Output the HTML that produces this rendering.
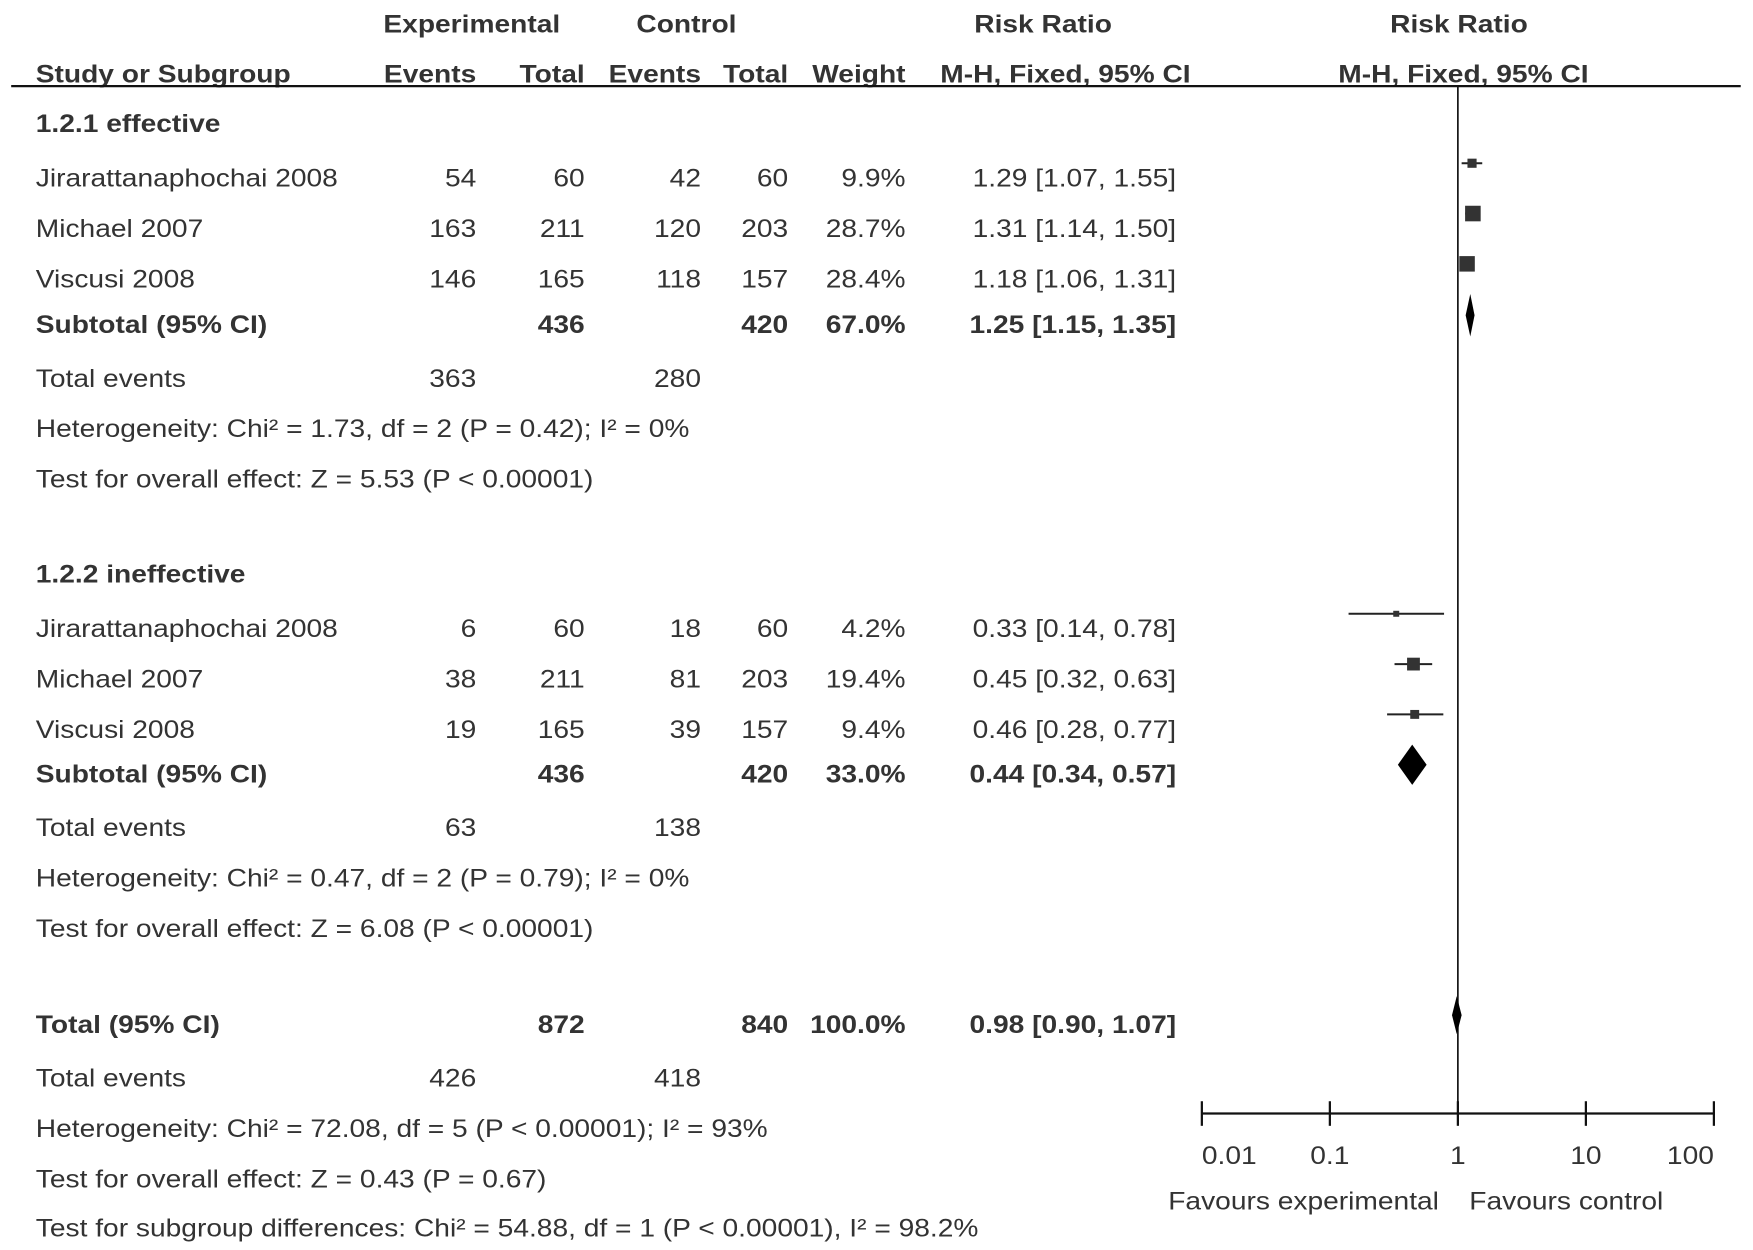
<!DOCTYPE html>
<html><head><meta charset="utf-8">
<style>
html,body{margin:0;padding:0;background:#fff;width:1753px;height:1250px;overflow:hidden}
#wrap{width:1568px;height:1118px;transform:scale(1.118);transform-origin:0 0}
svg text{font-family:"Liberation Sans",Arial,sans-serif;font-size:22.5px;fill:#333}
.b{font-weight:bold}
</style></head>
<body>
<div id="wrap">
<svg id="svg" width="1568" height="1118"></svg>
</div>
<script>
// ---- data ----
const studyNames = ["Jirarattanaphochai 2008","Michael 2007","Viscusi 2008","Jirarattanaphochai 2008","Michael 2007","Viscusi 2008"];
const expEvents = [54,163,146,6,38,19];
const expTotal = [60,211,165,60,211,165];
const ctlEvents = [42,120,118,18,81,39];
const ctlTotal = [60,203,157,60,203,157];
const weights = [9.9,28.7,28.4,4.2,19.4,9.4];
const rr = [1.29,1.31,1.18,0.33,0.45,0.46];
const rrLow = [1.07,1.14,1.06,0.14,0.32,0.28];
const rrHigh = [1.55,1.50,1.31,0.78,0.63,0.77];
const subNames = ["Subtotal (95% CI)","Subtotal (95% CI)","Total (95% CI)"];
const subExpTotal = [436,436,872];
const subCtlTotal = [420,420,840];
const subWeight = [67.0,33.0,100.0];
const subRR = [1.25,0.44,0.98];
const subLow = [1.15,0.34,0.90];
const subHigh = [1.35,0.57,1.07];
const subExpEvents = [363,63,426];
const subCtlEvents = [280,138,418];
const hetText = ["Heterogeneity: Chi² = 1.73, df = 2 (P = 0.42); I² = 0%","Heterogeneity: Chi² = 0.47, df = 2 (P = 0.79); I² = 0%","Heterogeneity: Chi² = 72.08, df = 5 (P < 0.00001); I² = 93%"];
const testText = ["Test for overall effect: Z = 5.53 (P < 0.00001)","Test for overall effect: Z = 6.08 (P < 0.00001)","Test for overall effect: Z = 0.43 (P = 0.67)"];
const tickValues = [0.01,0.1,1,10,100];
const tickLabels = ["0.01","0.1","1","10","100"];

// ---- layout ----
const svg = document.getElementById('svg');
const NS = "http://www.w3.org/2000/svg";
const x1 = 1304, dec = 114.5, SX = 1.12;
function xs(v){return x1 + Math.log10(v)*dec;}
function el(tag, attrs){const e=document.createElementNS(NS,tag);for(const k in attrs)e.setAttribute(k,attrs[k]);svg.appendChild(e);return e;}
function txt(s,x,y,anchor,bold,name){
  const t=el('text',{x:x,y:y+8,'text-anchor':anchor||'start',transform:`translate(${x},0) scale(${SX},1) translate(${-x},0)`});
  if(bold)t.setAttribute('class','b');
  t.textContent=s;
  
  
  return t;
}
function f1(v){return v.toFixed(1)+'%';}
function f2(v){return v.toFixed(2);}
function ci(a,l,h){return f2(a)+' ['+f2(l)+', '+f2(h)+']';}

// headers
txt("Experimental",422,21,'middle',true,'experimental-header');
txt("Control",614,21,'middle',true,'control-header');
txt("Risk Ratio",933,21,'middle',true,'risk-ratio-header');
txt("Risk Ratio",1305,21,'middle',true,'risk-ratio-plot-header');
txt("Study or Subgroup",32,66,'start',true,'study-column-header');
txt("Events",426,66,'end',true,'exp-events-header');
txt("Total",523,66,'end',true,'exp-total-header');
txt("Events",627,66,'end',true,'ctl-events-header');
txt("Total",705,66,'end',true,'ctl-total-header');
txt("Weight",810,66,'end',true,'weight-header');
txt("M-H, Fixed, 95% CI",953,66,'middle',true,'method-header');
txt("M-H, Fixed, 95% CI",1309,66,'middle',true,'method-plot-header');
let hl=el('line',{x1:10,y1:77,x2:1557,y2:77,stroke:'#111','stroke-width':2});


let vl=el('line',{x1:x1,y1:77,x2:x1,y2:996,stroke:'#111','stroke-width':1.5});



const groupTitles=["1.2.1 effective","1.2.2 ineffective"];
const groupY=[110,513];
for(let g=0;g<2;g++){
  const gy=groupY[g];
  txt(groupTitles[g],32,gy,'start',true,'subgroup-title');
  for(let k=0;k<3;k++){
    const i=g*3+k, y=gy+49+45*k;
    txt(studyNames[i],32,y,'start',false,'study-name');
    txt(String(expEvents[i]),426,y,'end',false,'exp-events');
    txt(String(expTotal[i]),523,y,'end',false,'exp-total');
    txt(String(ctlEvents[i]),627,y,'end',false,'ctl-events');
    txt(String(ctlTotal[i]),705,y,'end',false,'ctl-total');
    txt(f1(weights[i]),810,y,'end',false,'weight');
    txt(ci(rr[i],rrLow[i],rrHigh[i]),1052,y,'end',false,'risk-ratio-ci');
    const my=y-13;
    const l=el('line',{x1:xs(rrLow[i]),y1:my,x2:xs(rrHigh[i]),y2:my,stroke:'#222','stroke-width':1.8});
    
    
    const s=2.6*Math.sqrt(weights[i]);
    const r=el('rect',{x:xs(rr[i])-s/2,y:my-s/2,width:s,height:s,fill:'#333'});
    
    
  }
}
const subY=[290,692,916];
const diaH=[38,36,34];
for(let j=0;j<3;j++){
  const y=subY[j];
  txt(subNames[j],32,y,'start',true,'subtotal-label');
  txt(String(subExpTotal[j]),523,y,'end',true,'subtotal-exp-total');
  txt(String(subCtlTotal[j]),705,y,'end',true,'subtotal-ctl-total');
  txt(f1(subWeight[j]),810,y,'end',true,'subtotal-weight');
  txt(ci(subRR[j],subLow[j],subHigh[j]),1052,y,'end',true,'subtotal-ci');
  txt("Total events",32,y+48,'start',false,'total-events-label');
  txt(String(subExpEvents[j]),426,y+48,'end',false,'total-exp-events');
  txt(String(subCtlEvents[j]),627,y+48,'end',false,'total-ctl-events');
  txt(hetText[j],32,y+93,'start',false,'heterogeneity');
  txt(testText[j],32,y+138,'start',false,'overall-effect');
  const my=y-8, h=diaH[j]/2;
  const d=el('polygon',{points:`${xs(subLow[j])},${my} ${xs(subRR[j])},${my-h} ${xs(subHigh[j])},${my} ${xs(subRR[j])},${my+h}`,fill:'#000'});
  
  
}
txt("Test for subgroup differences: Chi² = 54.88, df = 1 (P < 0.00001), I² = 98.2%",32,1098,'start',false,'subgroup-differences');

// axis
const ax=el('line',{x1:xs(tickValues[0]),y1:996,x2:xs(tickValues[tickValues.length-1]),y2:996,stroke:'#111','stroke-width':2});


for(let i=0;i<tickValues.length;i++){
  const t=el('line',{x1:xs(tickValues[i]),y1:985,x2:xs(tickValues[i]),y2:1007,stroke:'#111','stroke-width':2});
  
  
  const first=i===0, last=i===tickValues.length-1;
  txt(tickLabels[i],xs(tickValues[i]),1033,first?'start':(last?'end':'middle'),false,'x-tick-label');
}
txt("Favours experimental",1166,1074,'middle',false,'favours-experimental');
txt("Favours control",1401,1074,'middle',false,'favours-control');
</script>
</body></html>
